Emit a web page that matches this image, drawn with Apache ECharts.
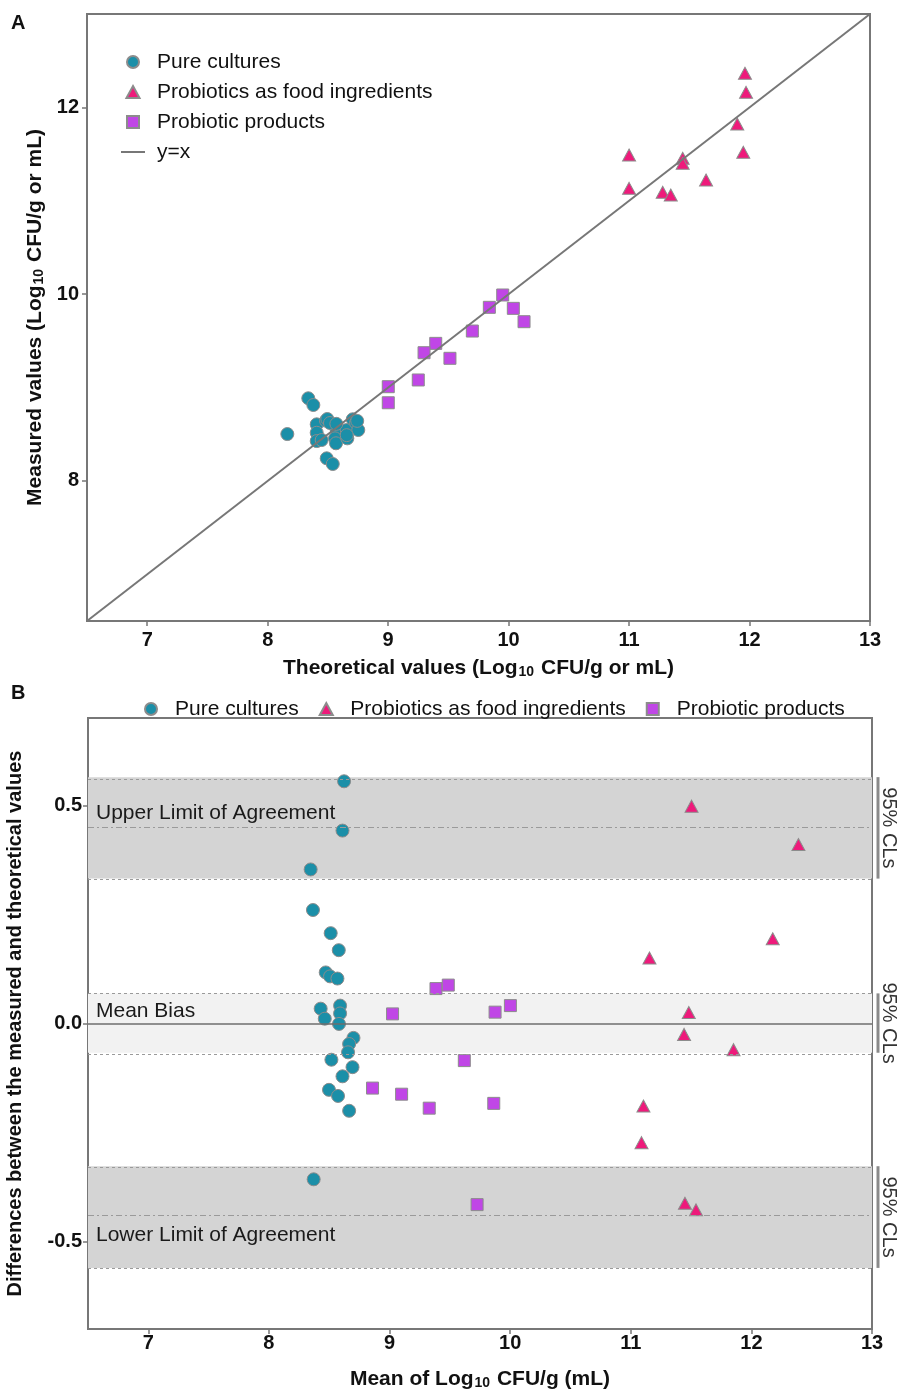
<!DOCTYPE html>
<html><head><meta charset="utf-8">
<script src="https://cdn.jsdelivr.net/npm/echarts@6/dist/echarts.min.js"></script>
<style>html,body{margin:0;padding:0;background:#fff}#chart{width:897px;height:1391px}</style>
</head><body><div id="chart"></div>
<script>
const FONT = '"Liberation Sans", Arial, Helvetica, sans-serif';
const seriesNames = ['Pure cultures', 'Probiotics as food ingredients', 'Probiotic products'];
const seriesColors = ['#1b8fa8', '#ee1a7b', '#c046e6'];

// ---- Panel A: theoretical vs measured (Log10 CFU/g or mL)
const pureTheoretical = [8.337, 8.379, 8.163, 8.407, 8.484, 8.407, 8.407, 8.448, 8.567, 8.573, 8.559, 8.567, 8.656, 8.661, 8.706, 8.733, 8.752, 8.490, 8.540, 8.495, 8.517, 8.570, 8.743, 8.656];
const pureMeasured    = [8.885, 8.813, 8.502, 8.606, 8.645, 8.516, 8.427, 8.438, 8.580, 8.545, 8.456, 8.403, 8.545, 8.456, 8.660, 8.623, 8.545, 8.242, 8.181, 8.663, 8.620, 8.611, 8.643, 8.490];
const foodTheoretical = [11.962, 11.971, 11.898, 11.948, 11.000, 11.445, 11.445, 11.000, 11.639, 11.279, 11.346];
const foodMeasured    = [12.365, 12.161, 11.822, 11.519, 11.490, 11.455, 11.401, 11.133, 11.222, 11.091, 11.062];
const prodTheoretical = [9.951, 9.840, 10.039, 10.128, 9.699, 9.395, 9.298, 9.513, 9.250, 9.001, 9.001];
const prodMeasured    = [9.991, 9.859, 9.848, 9.705, 9.605, 9.473, 9.373, 9.313, 9.081, 9.009, 8.837];
const identityLine = [6.5, 13];
const xTicks = [7, 8, 9, 10, 11, 12, 13];
const yTicksA = [8, 10, 12];

// ---- Panel B: Bland-Altman (mean, difference)
const pureMean = [8.623, 8.610, 8.346, 8.365, 8.512, 8.579, 8.471, 8.507, 8.568, 8.429, 8.463, 8.590, 8.590, 8.581, 8.701, 8.665, 8.656, 8.518, 8.693, 8.610, 8.498, 8.573, 8.665, 8.371];
const pureDiff = [0.555, 0.442, 0.353, 0.260, 0.207, 0.168, 0.117, 0.108, 0.103, 0.034, 0.011, 0.041, 0.023, -0.001, -0.033, -0.047, -0.066, -0.083, -0.100, -0.121, -0.152, -0.166, -0.200, -0.357];
const foodMean = [11.504, 12.390, 11.481, 11.442, 11.852, 11.105, 11.089, 11.449, 11.541, 12.177, 11.155];
const foodDiff = [0.498, 0.410, 0.025, -0.025, -0.060, -0.189, -0.273, -0.412, -0.427, 0.194, 0.150];
const prodMean = [9.025, 9.385, 9.487, 9.620, 9.875, 10.002, 8.859, 9.100, 9.329, 9.864, 9.726];
const prodDiff = [0.022, 0.080, 0.088, -0.085, 0.026, 0.041, -0.148, -0.162, -0.194, -0.183, -0.415];
// [lower CL, estimate, upper CL]
const upperLoA = [0.332, 0.449, 0.5645];
const meanBias = [-0.067, 0.0, 0.069];
const lowerLoA = [-0.560, -0.442, -0.327];
const bandLabels = ['Upper Limit of Agreement', 'Mean Bias', 'Lower Limit of Agreement'];
const clLabel = '95% CLs';
const yTicksB = [-0.5, 0, 0.5];

const zip = (a, b) => a.map((v, i) => [v, b[i]]);
const symbols = ['circle', 'triangle', 'rect'];
const symSizes = [13, [13, 12], 12];
const markerStyle = i => ({ color: seriesColors[i], borderColor: '#8c8c8c', borderWidth: 1, opacity: 1 });

const tickFont = { fontFamily: FONT, fontSize: 20, fontWeight: 'bold', color: '#111' };
const nameFont = {
  fontFamily: FONT, fontSize: 21, fontWeight: 'bold', color: '#111',
  rich: { sub: { fontFamily: FONT, fontSize: 14, fontWeight: 'bold', color: '#111', verticalAlign: 'bottom', lineHeight: 14, padding: [12, 1, 0, 1] } }
};
const axLine = { show: true, onZero: false, lineStyle: { color: '#777', width: 2 } };
const tick = vals => ({ show: true, customValues: vals, length: 5, lineStyle: { color: '#777', width: 1.5 } });

const chart = echarts.init(document.getElementById('chart'), null, { renderer: 'canvas' });

const bandLine = (v, type, color, width, label) => ({
  yAxis: v,
  lineStyle: { type: type, color: color, width: width },
  label: label || { show: false }
});
const bandText = (txt, pos, dist) => ({
  show: true, formatter: txt, position: pos, distance: dist,
  fontFamily: FONT, fontSize: 21, color: '#1a1a1a'
});

const triIcon = 'path://M6,0L12,11L0,11Z';
const sqIcon = 'path://M0,0H10V10H0Z';
const lineIcon = 'path://M0,0H24V2H0Z';

const option = {
  animation: false,
  backgroundColor: '#fff',
  textStyle: { fontFamily: FONT },
  title: [
    { text: 'A', left: 6, top: 8, textStyle: { fontFamily: FONT, fontSize: 20, fontWeight: 'bold', color: '#111' } },
    { text: 'B', left: 6, top: 678, textStyle: { fontFamily: FONT, fontSize: 20, fontWeight: 'bold', color: '#111' } }
  ],
  legend: [
    {
      orient: 'vertical', left: 116, top: 46, itemWidth: 24, itemHeight: 12, itemGap: 8,
      textStyle: { fontFamily: FONT, fontSize: 21, color: '#111', lineHeight: 22, padding: [0, 0, 0, 7] },
      data: [
        { name: seriesNames[0], icon: 'circle' },
        { name: seriesNames[1], icon: triIcon },
        { name: seriesNames[2], icon: sqIcon },
        { name: 'y=x', icon: lineIcon }
      ]
    },
    {
      orient: 'horizontal', left: 139, top: 693, itemWidth: 24, itemHeight: 12, itemGap: 20,
      textStyle: { fontFamily: FONT, fontSize: 21, color: '#111', lineHeight: 22, padding: [0, 0, 0, 7] },
      data: [
        { name: seriesNames[0], icon: 'circle' },
        { name: seriesNames[1], icon: triIcon },
        { name: seriesNames[2], icon: sqIcon }
      ]
    }
  ],
  grid: [
    { left: 87, top: 14, width: 783, height: 607, show: true, borderColor: '#777', borderWidth: 2, backgroundColor: 'transparent', outerBoundsMode: 'none', containLabel: false },
    { left: 88, top: 718, width: 784, height: 611, show: true, borderColor: '#777', borderWidth: 2, backgroundColor: 'transparent', outerBoundsMode: 'none', containLabel: false }
  ],
  xAxis: [
    {
      gridIndex: 0, type: 'value', min: 6.5, max: 13,
      name: 'Theoretical values (Log{sub|10} CFU/g or mL)', nameLocation: 'middle', nameGap: 37, nameTextStyle: nameFont,
      axisLine: axLine, axisTick: tick(xTicks), splitLine: { show: false },
      axisLabel: Object.assign({ customValues: xTicks, margin: 9 }, tickFont)
    },
    {
      gridIndex: 1, type: 'value', min: 6.5, max: 13,
      name: 'Mean of Log{sub|10} CFU/g (mL)', nameLocation: 'middle', nameGap: 40, nameTextStyle: nameFont,
      axisLine: axLine, axisTick: tick(xTicks), splitLine: { show: false },
      axisLabel: Object.assign({ customValues: xTicks, margin: 4 }, tickFont)
    }
  ],
  yAxis: [
    {
      gridIndex: 0, type: 'value', min: 6.5, max: 13,
      name: 'Measured values (Log{sub|10} CFU/g or mL)', nameLocation: 'middle', nameGap: 36, nameTextStyle: nameFont,
      axisLine: axLine, axisTick: tick(yTicksA), splitLine: { show: false },
      axisLabel: Object.assign({ customValues: yTicksA, margin: 8 }, tickFont)
    },
    {
      gridIndex: 1, type: 'value', min: -0.7, max: 0.7,
      name: 'Differences between the measured and theoretical values', nameLocation: 'middle', nameGap: 63,
      nameTextStyle: Object.assign({}, nameFont, { fontSize: 20 }),
      axisLine: axLine, axisTick: tick(yTicksB), splitLine: { show: false },
      axisLabel: Object.assign({ customValues: yTicksB, margin: 6, formatter: v => v.toFixed(1) }, tickFont)
    }
  ],
  series: [
    // bands (panel B)
    {
      name: '_bands', type: 'line', xAxisIndex: 1, yAxisIndex: 1, data: [], z: 1, silent: true,
      markArea: {
        silent: true,
        data: [
          [{ yAxis: upperLoA[0], itemStyle: { color: '#d4d4d4' } }, { yAxis: upperLoA[2] }],
          [{ yAxis: meanBias[0], itemStyle: { color: '#f2f2f2' } }, { yAxis: meanBias[2] }],
          [{ yAxis: lowerLoA[0], itemStyle: { color: '#d4d4d4' } }, { yAxis: lowerLoA[2] }]
        ]
      },
      markLine: {
        silent: true, symbol: ['none', 'none'], animation: false,
        data: [
          bandLine(upperLoA[0], [3, 3], '#9a9a9a', 1),
          bandLine(upperLoA[2], [3, 3], '#9a9a9a', 1),
          bandLine(upperLoA[1], [6, 3, 2, 3], '#9a9a9a', 1, bandText(bandLabels[0], 'insideStartTop', [8, 3])),
          bandLine(meanBias[0], [3, 3], '#9a9a9a', 1),
          bandLine(meanBias[2], [3, 3], '#9a9a9a', 1),
          bandLine(meanBias[1], 'solid', '#6e6e6e', 1.5, bandText(bandLabels[1], 'insideStartTop', [8, 2])),
          bandLine(lowerLoA[0], [3, 3], '#9a9a9a', 1),
          bandLine(lowerLoA[2], [3, 3], '#9a9a9a', 1),
          bandLine(lowerLoA[1], [6, 3, 2, 3], '#9a9a9a', 1, bandText(bandLabels[2], 'insideStartBottom', [8, 9]))
        ]
      }
    },
    // panel A
    { name: seriesNames[0], type: 'scatter', xAxisIndex: 0, yAxisIndex: 0, symbol: symbols[0], symbolSize: symSizes[0], itemStyle: markerStyle(0), data: zip(pureTheoretical, pureMeasured), z: 3 },
    { name: seriesNames[1], type: 'scatter', xAxisIndex: 0, yAxisIndex: 0, symbol: symbols[1], symbolSize: symSizes[1], itemStyle: markerStyle(1), data: zip(foodTheoretical, foodMeasured), z: 3 },
    { name: seriesNames[2], type: 'scatter', xAxisIndex: 0, yAxisIndex: 0, symbol: symbols[2], symbolSize: symSizes[2], itemStyle: markerStyle(2), data: zip(prodTheoretical, prodMeasured), z: 3 },
    { name: 'y=x', type: 'line', xAxisIndex: 0, yAxisIndex: 0, symbol: 'none', showSymbol: false, silent: true,
      lineStyle: { color: '#777', width: 2 }, itemStyle: { color: '#777' }, data: zip(identityLine, identityLine), z: 5 },
    // panel B
    { name: seriesNames[0], type: 'scatter', xAxisIndex: 1, yAxisIndex: 1, symbol: symbols[0], symbolSize: symSizes[0], itemStyle: markerStyle(0), data: zip(pureMean, pureDiff), z: 3 },
    { name: seriesNames[1], type: 'scatter', xAxisIndex: 1, yAxisIndex: 1, symbol: symbols[1], symbolSize: symSizes[1], itemStyle: markerStyle(1), data: zip(foodMean, foodDiff), z: 3 },
    { name: seriesNames[2], type: 'scatter', xAxisIndex: 1, yAxisIndex: 1, symbol: symbols[2], symbolSize: symSizes[2], itemStyle: markerStyle(2), data: zip(prodMean, prodDiff), z: 3 }
  ]
};
chart.setOption(option);

// 95% CL brackets on the right of panel B, positioned through the axis scales
const xr = chart.convertToPixel({ xAxisIndex: 1 }, 13) + 6;
const graphics = [];
[upperLoA, meanBias, lowerLoA].forEach(b => {
  const y1 = chart.convertToPixel({ yAxisIndex: 1 }, b[2]);
  const y2 = chart.convertToPixel({ yAxisIndex: 1 }, b[0]);
  graphics.push({ type: 'line', shape: { x1: xr, y1: y1, x2: xr, y2: y2 }, style: { stroke: '#8a8a8a', lineWidth: 3 }, silent: true });
  graphics.push({ type: 'text', x: xr + 11, y: (y1 + y2) / 2, rotation: -Math.PI / 2,
    style: { text: clLabel, fontFamily: FONT, fontSize: 20, fill: '#333', align: 'center', verticalAlign: 'middle' }, silent: true });
});
chart.setOption({ graphic: graphics });
</script>
</body></html>
